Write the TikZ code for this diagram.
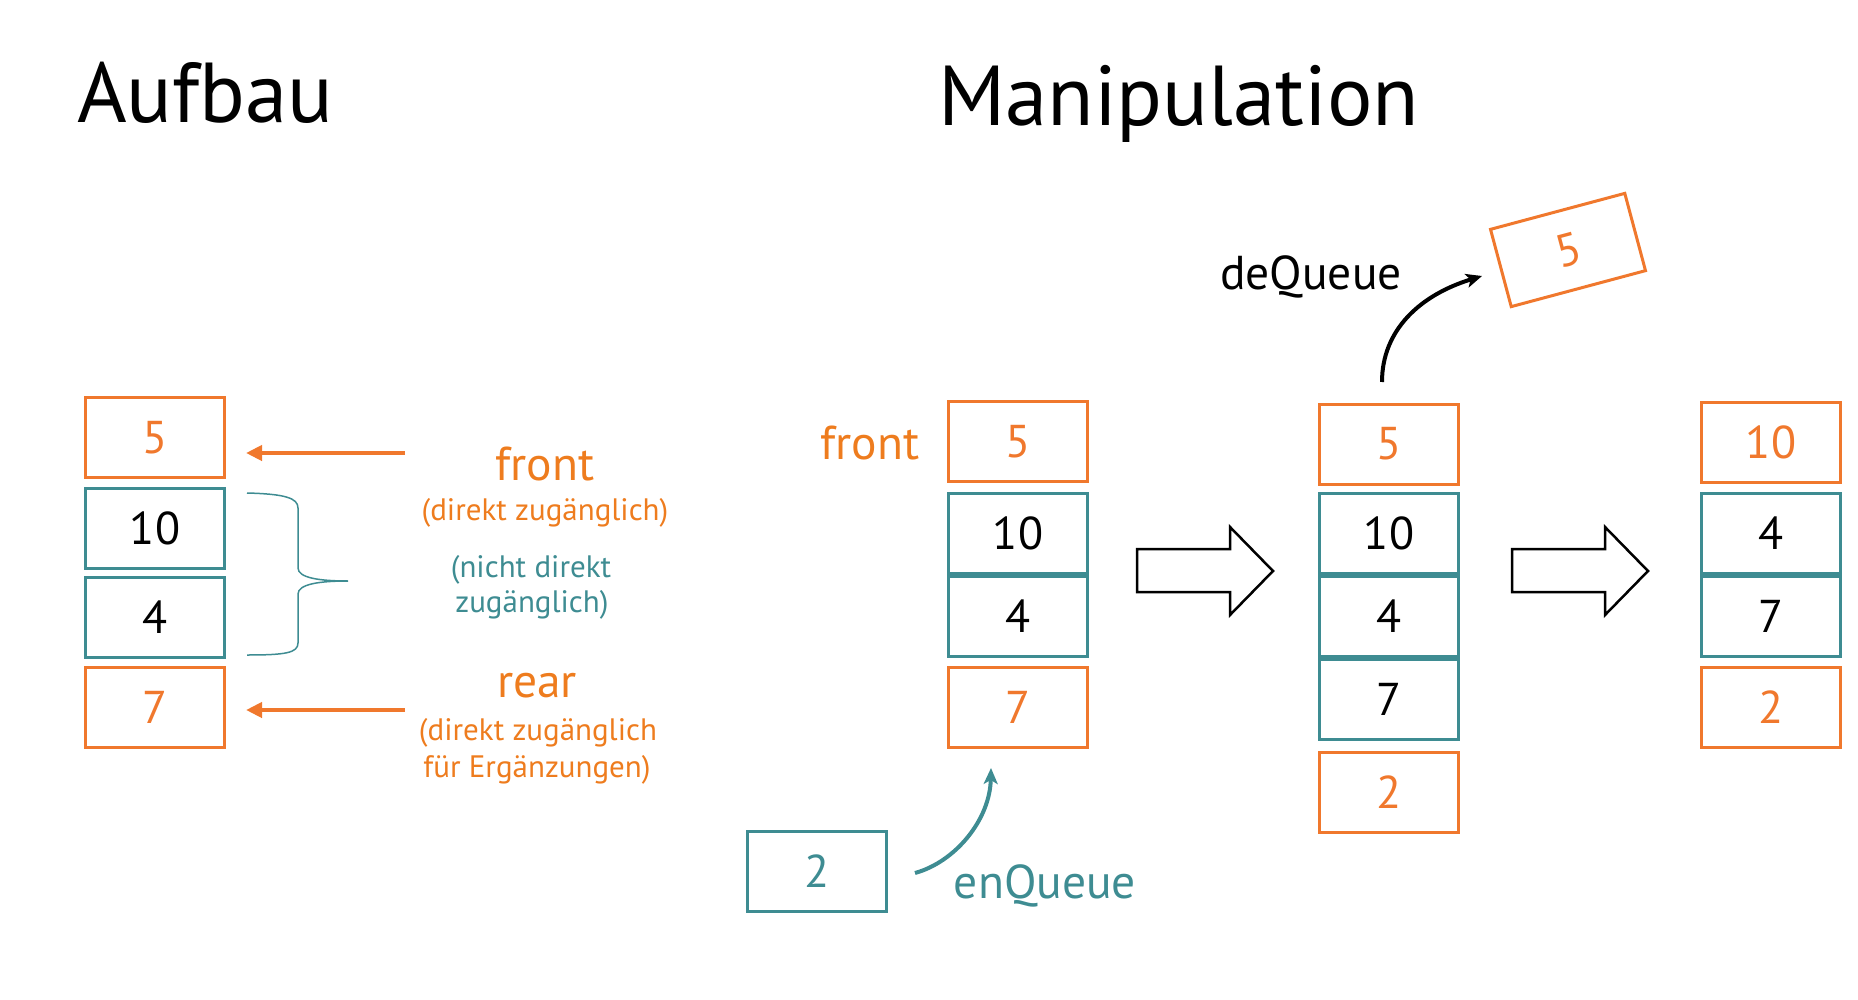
\documentclass[tikz,border=0pt]{standalone}
\usepackage{fontspec}
\setmainfont{PT Sans}
\usetikzlibrary{arrows.meta}
\definecolor{qorange}{RGB}{240,120,45}
\definecolor{qotext}{RGB}{238,124,30}
\definecolor{qteal}{RGB}{62,140,146}
\begin{document}
\begin{tikzpicture}[x=1pt,y=-1pt,
  cell/.style={draw, line width=3pt, minimum width=139pt, minimum height=80pt, inner sep=0pt, font=\fontsize{46}{52}\selectfont},
  ocell/.style={cell, draw=qorange, text=qorange},
  tcell/.style={cell, draw=qteal, text=black},
  ttcell/.style={cell, draw=qteal, text=qteal},
  big/.style={font=\fontsize{47.5}{54}\selectfont, inner sep=0pt, anchor=base},
  small/.style={font=\fontsize{31}{36}\selectfont, inner sep=0pt, anchor=base},
  title/.style={font=\fontsize{85}{92}\selectfont, inner sep=0pt, anchor=base west},
  oarrow/.style={draw=qorange, line width=4.5pt, -{Triangle[length=16pt,width=15pt]}},
  bigarrow/.style={draw=black, line width=2.5pt, fill=white, line join=miter}
]
\useasboundingbox (0,0) rectangle (1858,1000);

% titles
\node[title] (t1) at (77,123) {Aufbau};
\node[title] (t2) at (938,126) {Manipulation};

% left column (Aufbau)
\node[ocell] (l5) at (155,437.5) {5};
\node[tcell] (l10) at (155,528) {10};
\node[tcell] (l4) at (155,617.5) {4};
\node[ocell] (l7) at (155,707.5) {7};

\coordinate (fa) at (405,453);
\coordinate (ra) at (405,710);
\draw[oarrow, shorten >=20pt] (fa) -- (fa -| l5.east);
\draw[oarrow, shorten >=20pt] (ra) -- (ra -| l7.east);

% brace
\draw[qteal, line width=1.5pt]
  (247,493) .. controls (285,494) and (298,498) .. (298,508)
  -- (298,568) .. controls (298,578) and (320,581) .. (348,581)
  .. controls (320,581) and (298,584) .. (298,594)
  -- (298,643) .. controls (298,653) and (285,655) .. (247,655);

\node[big, text=qotext] (lfront) at (545,480) {front};
\node[small, text=qotext] (lfd) at (545,520) {(direkt zugänglich)};
\node[small, text=qteal] (ln1) at (531,577) {(nicht direkt};
\node[small, text=qteal] (ln2) at (532,612) {zugänglich)};
\node[big, text=qotext] (lrear) at (537,697) {rear};
\node[small, text=qotext] (lr1) at (538,740) {(direkt zugänglich};
\node[small, text=qotext] (lr2) at (537,777) {für Ergänzungen)};

% column 2
\node[big, text=qotext] (mfront) at (870,459) {front};
\node[ocell] (a5) at (1018,441.5) {5};
\node[tcell] (a10) at (1018,533) {10};
\node[tcell] (a4) at (1018,616) {4};
\node[ocell] (a7) at (1018,707.5) {7};

\node[ttcell] (e2) at (817,871.5) {2};
\coordinate (eqs) at (915,873);
\coordinate (eqe) at (991,768);
\draw[qteal, line width=4pt, -{Stealth[length=16pt,width=14pt,inset=4pt]}]
  (eqs) .. controls (955,862) and (990,820) .. (eqe);
\node[big, text=qteal] (enq) at (1045,898) {enQueue};

% arrow 1
\draw[bigarrow] (1137,549) -- (1230,549) -- (1230,527) -- (1273,571) -- (1230,615) -- (1230,592) -- (1137,592) -- cycle;

% column 3
\node[ocell] (b5) at (1389,444) {5};
\node[tcell] (b10) at (1389,533) {10};
\node[tcell] (b4) at (1389,616) {4};
\node[tcell] (b7) at (1389,699) {7};
\node[ocell] (b2) at (1389,792) {2};

\node[ocell, rotate=15] (d5) at (1568,250) {5};
\coordinate (dqs) at (1382,382);
\coordinate (dqe) at (1482,276);
\draw[black, line width=4pt, -{Stealth[length=16pt,width=14pt,inset=4pt]}]
  (dqs) .. controls (1382,330) and (1420,295) .. (dqe);
\node[big, text=black] (deq) at (1311,290) {deQueue};

% arrow 2
\draw[bigarrow] (1512,549) -- (1605,549) -- (1605,527) -- (1648,571) -- (1605,615) -- (1605,592) -- (1512,592) -- cycle;

% column 4
\node[ocell] (c10) at (1771,442.5) {10};
\node[tcell] (c4) at (1771,533) {4};
\node[tcell] (c7) at (1771,616) {7};
\node[ocell] (c2) at (1771,707.5) {2};
\end{tikzpicture}
\end{document}
